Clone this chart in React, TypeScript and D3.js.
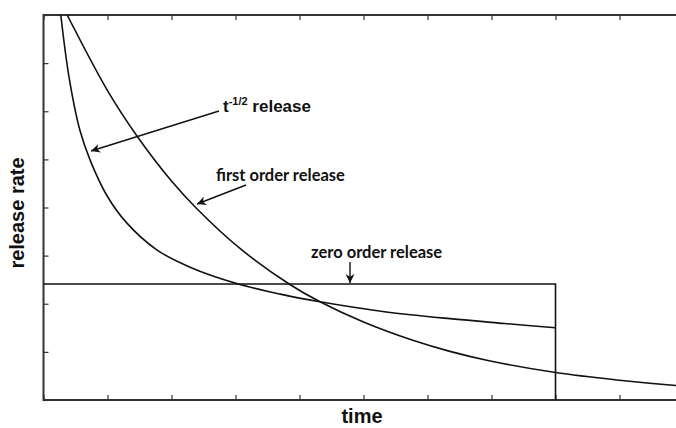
import React, { useEffect, useRef } from 'react';
import * as d3 from 'd3';

// values: [time, release rate]
const halfOrder: [number, number][] = [
  [0.27, 8.0], [0.4, 6.7], [0.57, 5.6], [0.73, 4.98], [0.99, 4.25], [1.3, 3.68],
  [1.77, 3.12], [2.29, 2.76], [3.02, 2.42], [3.7, 2.2], [4.32, 2.04], [5.3, 1.84],
  [6.35, 1.69], [7.2, 1.59], [8.0, 1.5],
];
const firstOrder: [number, number][] = [
  [0.37, 8.0], [1.0, 6.43], [1.48, 5.45], [2.0, 4.55], [2.4, 3.97], [3.07, 3.15],
  [3.85, 2.4], [4.32, 2.04], [5.0, 1.62], [5.77, 1.24], [6.35, 1.01], [6.98, 0.81],
  [8.0, 0.57], [9.0, 0.41], [9.88, 0.3], [10.2, 0.27],
];
const zeroOrder: [number, number][] = [[0, 2.41], [8, 2.41], [8, 0]];

const xTicks = [0, 1, 2, 3, 4, 5, 6, 7, 8, 9, 10];
const yTicks = [0, 1, 2, 3, 4, 5, 6, 7, 8];

const W = 676;
const H = 428;

export default function App() {
  const ref = useRef<SVGSVGElement>(null);

  useEffect(() => {
    const svg = d3.select(ref.current);
    svg.selectAll('*').remove();

    const x = d3.scaleLinear().domain([0, 10]).range([43.5, 683.5]);
    const y = d3.scaleLinear().domain([0, 8]).range([400, 15]);

    svg.append('defs').append('clipPath').attr('id', 'plot')
      .append('rect').attr('x', 43.5).attr('y', 15).attr('width', 640).attr('height', 385);

    const axisColor = '#333';
    const styleAxis = (g: any) => {
      g.select('.domain').remove();
      g.selectAll('line').attr('stroke', axisColor).attr('stroke-width', 1.2);
      g.selectAll('text').remove();
    };

    svg.append('g').attr('transform', 'translate(0,400)')
      .call(d3.axisBottom(x).tickValues(xTicks).tickSize(-5).tickFormat(() => ''))
      .call(styleAxis);
    svg.append('g').attr('transform', 'translate(0,15)')
      .call(d3.axisTop(x).tickValues(xTicks).tickSize(-5).tickFormat(() => ''))
      .call(styleAxis);
    svg.append('g').attr('transform', 'translate(43.5,0)')
      .call(d3.axisLeft(y).tickValues(yTicks).tickSize(-5).tickFormat(() => ''))
      .call(styleAxis);

    // frame lines
    svg.append('line').attr('x1', 43.5).attr('x2', W).attr('y1', 400).attr('y2', 400)
      .attr('stroke', axisColor).attr('stroke-width', 2);
    svg.append('line').attr('x1', 43.5).attr('x2', W).attr('y1', 15).attr('y2', 15)
      .attr('stroke', axisColor).attr('stroke-width', 2);
    svg.append('line').attr('x1', 43.5).attr('x2', 43.5).attr('y1', 14).attr('y2', 401)
      .attr('stroke', axisColor).attr('stroke-width', 2);

    const line = d3.line<[number, number]>()
      .x(d => x(d[0])).y(d => y(d[1]))
      .curve(d3.curveCatmullRom.alpha(0.5));
    const straight = d3.line<[number, number]>().x(d => x(d[0])).y(d => y(d[1]));

    const curves = svg.append('g').attr('clip-path', 'url(#plot)')
      .attr('fill', 'none').attr('stroke', '#111').attr('stroke-width', 1.6);
    curves.append('path').attr('d', line(halfOrder));
    curves.append('path').attr('d', line(firstOrder));
    curves.append('path').attr('d', straight(zeroOrder));

    // arrows
    const marker = svg.select('defs').append('marker').attr('id', 'head')
      .attr('viewBox', '0 0 10 10').attr('refX', 10).attr('refY', 5)
      .attr('markerWidth', 9).attr('markerHeight', 9).attr('markerUnits', 'userSpaceOnUse')
      .attr('orient', 'auto');
    marker.append('path').attr('d', 'M0,0 L10,5 L0,10 L3,5 Z').attr('fill', '#111');

    const arrows: [number, number, number, number][] = [
      [219, 111, 91, 151],
      [246, 185, 197, 204],
      [350, 262, 350, 283],
    ];
    svg.selectAll('.arrow').data(arrows).enter().append('line')
      .attr('x1', d => d[0]).attr('y1', d => d[1]).attr('x2', d => d[2]).attr('y2', d => d[3])
      .attr('stroke', '#111').attr('stroke-width', 1.4).attr('marker-end', 'url(#head)');

    // annotations
    const t = svg.append('text').attr('x', 223).attr('y', 112)
      .attr('font-family', 'Liberation Sans, Arial, sans-serif').attr('font-weight', 'bold')
      .attr('font-size', 17).attr('fill', '#111');
    t.append('tspan').text('t');
    t.append('tspan').attr('dy', -7).attr('font-size', 11).text('-1/2');
    t.append('tspan').attr('dy', 7).text(' release');

    svg.append('text').attr('x', 216).attr('y', 181)
      .attr('font-family', 'Lato, sans-serif').attr('font-weight', 'bold')
      .attr('font-size', 16.5).attr('fill', '#111').text('first order release');
    svg.append('text').attr('x', 311).attr('y', 258)
      .attr('font-family', 'Lato, sans-serif').attr('font-weight', 'bold')
      .attr('font-size', 16.5).attr('fill', '#111').text('zero order release');

    svg.append('text').attr('x', 362).attr('y', 423).attr('text-anchor', 'middle')
      .attr('font-family', 'Liberation Sans, Arial, sans-serif').attr('font-weight', 'bold')
      .attr('font-size', 20).attr('fill', '#111').text('time');
    svg.append('text').attr('transform', 'translate(24,213) rotate(-90)').attr('text-anchor', 'middle')
      .attr('font-family', 'Liberation Sans, Arial, sans-serif').attr('font-weight', 'bold')
      .attr('font-size', 20).attr('fill', '#111').text('release rate');
  }, []);

  return (
    <svg ref={ref} width={W} height={H}
      style={{ position: 'absolute', left: 0, top: 0, background: '#fff' }} />
  );
}
